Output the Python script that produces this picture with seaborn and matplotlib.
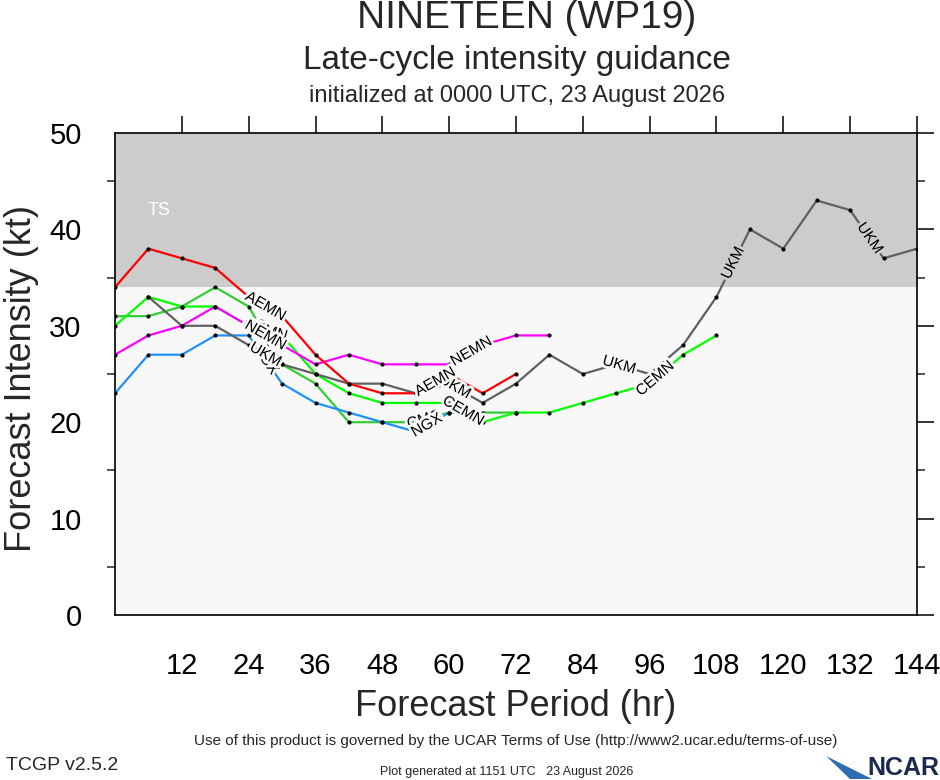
import numpy as np
import pandas as pd
import matplotlib
matplotlib.use("Agg")
import matplotlib.pyplot as plt
from matplotlib import patheffects
from matplotlib.patches import Polygon
import seaborn as sns

# forecast hours (every 6 h) and intensities (kt) per guidance model
AEMN_HOURS = list(range(0, 73, 6))
AEMN_KT = [34, 38, 37, 36, 33, 31, 27, 24, 23, 23, 25, 23, 25]

NEMN_HOURS = list(range(0, 79, 6))
NEMN_KT = [27, 29, 30, 32, 30, 28, 26, 27, 26, 26, 26, 28, 29, 29]

UKM_HOURS = list(range(6, 145, 6))
UKM_KT = [33, 30, 30, 28, 26, 25, 24, 24, 23, 24, 22, 24, 27, 25, 26, 25,
          28, 33, 40, 38, 43, 42, 37, 38]

CEMN_HOURS = list(range(0, 109, 6))
CEMN_KT = [30, 33, 32, 32, 30, 29, 25, 23, 22, 22, 22, 20, 21, 21, 22, 23,
           24, 27, 29]

CMC_HOURS = list(range(0, 73, 6))
CMC_KT = [31, 31, 32, 34, 32, 26, 24, 20, 20, 20, 21, 21, 21]

NGX_HOURS = list(range(0, 61, 6))
NGX_KT = [23, 27, 27, 29, 29, 24, 22, 21, 20, 19, 21]

MODEL_ORDER = ["CMC", "CEMN", "NGX", "NEMN", "UKM", "AEMN"]
MODEL_COLORS = {
    "AEMN": "#ff0000",
    "NEMN": "#ff00ff",
    "UKM": "#606060",
    "CEMN": "#00ff00",
    "CMC": "#33cc33",
    "NGX": "#1e90ff",
}
# hours along each track where the model name is written on the line
LABEL_HOURS = {
    "AEMN": [27, 57.5],
    "NEMN": [27, 64],
    "UKM": [27, 61, 90.5, 111, 135.5],
    "CEMN": [27, 62.5, 97],
    "CMC": [27, 55.5],
    "NGX": [27, 56],
}

TS_THRESHOLD = 34
X_TICKS = list(range(12, 145, 12))
Y_TICKS = list(range(0, 51, 10))

BG_LOW = "#f8f8f8"
BG_TS = "#cccccc"


def build_frame() -> pd.DataFrame:
    tracks = {
        "AEMN": (AEMN_HOURS, AEMN_KT),
        "NEMN": (NEMN_HOURS, NEMN_KT),
        "UKM": (UKM_HOURS, UKM_KT),
        "CEMN": (CEMN_HOURS, CEMN_KT),
        "CMC": (CMC_HOURS, CMC_KT),
        "NGX": (NGX_HOURS, NGX_KT),
    }
    frames = [
        pd.DataFrame({"model": name, "hour": hours, "kt": kt})
        for name, (hours, kt) in tracks.items()
    ]
    return pd.concat(frames, ignore_index=True)


def label_lines(ax, df: pd.DataFrame) -> None:
    for model in MODEL_ORDER:
        track = df[df["model"] == model]
        hours = track["hour"].to_numpy(dtype=float)
        kt = track["kt"].to_numpy(dtype=float)
        for h in LABEL_HOURS[model]:
            value = np.interp(h, hours, kt)
            i = max(0, min(np.searchsorted(hours, h) - 1, len(hours) - 2))
            p0 = ax.transData.transform((hours[i], kt[i]))
            p1 = ax.transData.transform((hours[i + 1], kt[i + 1]))
            angle = np.degrees(np.arctan2(p1[1] - p0[1], p1[0] - p0[0]))
            bg = BG_TS if value > TS_THRESHOLD else BG_LOW
            ax.text(
                h, value, model, fontsize=11, color="black",
                rotation=angle, rotation_mode="anchor",
                ha="center", va="center", zorder=6,
                path_effects=[patheffects.withStroke(linewidth=4, foreground=bg)],
            )


def main() -> None:
    sns.set_theme(style="white")
    plt.rcParams["font.family"] = ["Liberation Sans", "DejaVu Sans"]

    df = build_frame()

    fig = plt.figure(figsize=(9.4, 7.8), dpi=100)
    ax = fig.add_axes([115 / 940, 1 - 615 / 780, (917 - 115) / 940, (615 - 133) / 780])
    ax.set_xlim(0, 144)
    ax.set_ylim(0, 50)
    ax.set_facecolor(BG_LOW)
    ax.axhspan(TS_THRESHOLD, 50, color=BG_TS, zorder=0, lw=0)
    ax.text(8, 42, "TS", color="white", fontsize=13, ha="center", va="center")

    sns.lineplot(
        data=df, x="hour", y="kt", hue="model", hue_order=MODEL_ORDER,
        palette=MODEL_COLORS, units="model", estimator=None, sort=False,
        linewidth=1.6, legend=False, ax=ax, zorder=3,
    )
    sns.scatterplot(
        data=df, x="hour", y="kt", color="black", s=9, linewidth=0,
        legend=False, ax=ax, zorder=4,
    )
    label_lines(ax, df)

    ax.set_xticks(X_TICKS)
    ax.set_yticks(Y_TICKS)
    ax.set_yticks(list(range(5, 50, 10)), minor=True)
    ax.tick_params(axis="both", which="major", direction="out", length=12,
                   width=1.1, labelsize=21, colors="black", top=True, right=True,
                   labeltop=False, labelright=False)
    ax.tick_params(axis="x", which="major", pad=15)
    ax.tick_params(axis="y", which="major", pad=12)
    ax.tick_params(axis="y", which="minor", direction="out", length=6, width=1.1,
                   left=True, right=True)
    for spine in ax.spines.values():
        spine.set_color("black")
        spine.set_linewidth(1.2)

    ax.set_xlabel("")
    ax.set_ylabel("")
    fig.text(516 / 940, 1 - 707 / 780, "Forecast Period (hr)", fontsize=26,
             ha="center", va="center")
    fig.text(22 / 940, 1 - 378 / 780, "Forecast Intensity (kt)", fontsize=26,
             ha="center", va="center", rotation=90)

    fig.text(527 / 940, 1 - 18 / 780, "NINETEEN (WP19)", fontsize=28,
             ha="center", va="center")
    fig.text(517 / 940, 1 - 61 / 780, "Late-cycle intensity guidance", fontsize=24,
             ha="center", va="center")
    fig.text(517 / 940, 1 - 96 / 780, "initialized at 0000 UTC, 23 August 2026",
             fontsize=17, ha="center", va="center")

    fig.text(516 / 940, 1 - 741 / 780,
             "Use of this product is governed by the UCAR Terms of Use "
             "(http://www2.ucar.edu/terms-of-use)",
             fontsize=11, ha="center", va="center")
    fig.text(6 / 940, 1 - 765 / 780, "TCGP v2.5.2", fontsize=14,
             ha="left", va="center")
    fig.text(507 / 940, 1 - 772 / 780, "Plot generated at 1151 UTC   23 August 2026",
             fontsize=9, ha="center", va="center")

    # NCAR logo: blue wedge plus wordmark
    wedge = Polygon(
        [(826 / 940, 1 - 756 / 780), (872 / 940, 1 - 779 / 780), (850 / 940, 1 - 779 / 780)],
        closed=True, transform=fig.transFigure, facecolor="#2f6db3", edgecolor="none",
    )
    fig.patches.append(wedge)
    fig.text(903 / 940, 1 - 768 / 780, "NCAR", fontsize=18, fontweight="bold",
             color="#1c2a4f", ha="center", va="center")

    fig.savefig("out.png", dpi=100)
    plt.close(fig)


if __name__ == "__main__":
    main()
